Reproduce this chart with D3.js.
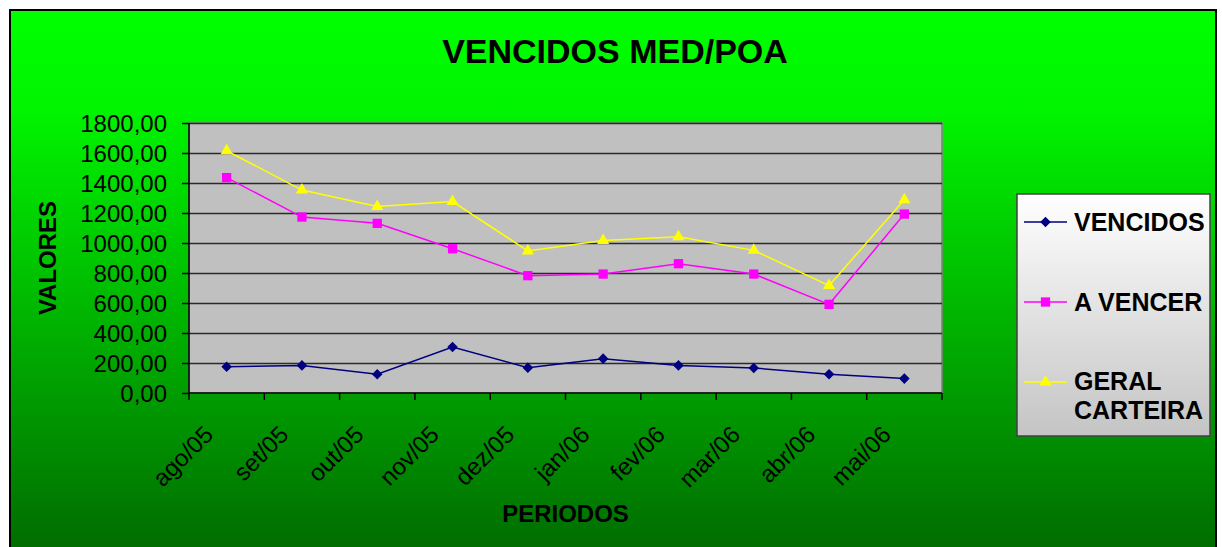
<!DOCTYPE html>
<html><head><meta charset="utf-8">
<script src="https://cdn.jsdelivr.net/npm/d3@7"></script>
<style>body{margin:0;background:#fff;overflow:hidden}</style>
</head><body><svg id="c" width="1222" height="547"></svg>
<script>
const categories = ["ago/05","set/05","out/05","nov/05","dez/05","jan/06","fev/06","mar/06","abr/06","mai/06"];
const vencidos = [175,184,125,307,169,229,184,167,125,96];
const aVencer = [1436,1173,1131,962,782,793,862,793,591,1193];
const geralCarteira = [1615,1353,1244,1276,947,1016,1042,951,716,1289];
const yTicks = [0,200,400,600,800,1000,1200,1400,1600,1800];
const seriesNames = ["VENCIDOS","A VENCER","GERAL CARTEIRA"];
const chartTitle = "VENCIDOS MED/POA";
const xTitle = "PERIODOS";
const yTitle = "VALORES";

const svg = d3.select("#c");
const defs = svg.append("defs");
const bg = defs.append("linearGradient").attr("id","bg").attr("x1",0).attr("y1",0).attr("x2",0).attr("y2",1);
bg.append("stop").attr("offset","0").attr("stop-color","#00ff00");
bg.append("stop").attr("offset","0.18").attr("stop-color","#00f500");
bg.append("stop").attr("offset","0.72").attr("stop-color","#009a00");
bg.append("stop").attr("offset","1").attr("stop-color","#006b00");
const lg = defs.append("linearGradient").attr("id","lg").attr("x1",0).attr("y1",0).attr("x2",0).attr("y2",1);
lg.append("stop").attr("offset","0").attr("stop-color","#ffffff");
lg.append("stop").attr("offset","1").attr("stop-color","#c4c4c4");

svg.append("rect").attr("x",10).attr("y",10).attr("width",1206).attr("height",545)
  .attr("fill","url(#bg)").attr("stroke","#000").attr("stroke-width",2);

const font = "'Liberation Sans', Arial, sans-serif";
const x = d3.scaleBand().domain(categories).range([189,942]);
const y = d3.scaleLinear().domain([0,1800]).range([393,123]);
const fmt = d3.formatLocale({decimal:",",thousands:".",grouping:[3],currency:["",""]}).format(".2f");

// plot area
svg.append("rect").attr("x",189).attr("y",123).attr("width",753).attr("height",270)
  .attr("fill","#c0c0c0").attr("stroke","#808080").attr("stroke-width",1.5);

// gridlines
svg.append("g").attr("transform","translate(189,0)")
  .call(d3.axisLeft(y).tickValues(yTicks.slice(1)).tickSize(-753).tickFormat(""))
  .call(g=>g.select(".domain").remove())
  .call(g=>g.selectAll("line").attr("stroke","#2a2a2a").attr("stroke-width",1.5));

// y axis
const ya = svg.append("g").attr("transform","translate(189,0)")
  .call(d3.axisLeft(y).tickValues(yTicks).tickSize(7).tickPadding(15).tickFormat(fmt));
ya.select(".domain").attr("stroke","#000").attr("stroke-width",1.5).attr("d","M0,123V393");
ya.selectAll("line").attr("stroke","#000").attr("stroke-width",1.5);
ya.selectAll("text").attr("font-family",font).attr("font-size",24).attr("fill","#000").attr("dy","0.35em");

// x axis
const xa = svg.append("g").attr("transform","translate(0,393)")
  .call(d3.axisBottom(x).tickSize(0).tickFormat(d=>d));
xa.select(".domain").attr("stroke","#000").attr("stroke-width",1.5).attr("d","M189,0H942");
xa.selectAll("text").attr("font-family",font).attr("font-size",24).attr("fill","#000")
  .attr("y",null).attr("dy",null).attr("text-anchor","end")
  .attr("transform","translate(-12,43) rotate(-45)");
xa.selectAll(".bound").data(d3.range(categories.length+1)).join("line")
  .attr("class","bound")
  .attr("x1",i=>x.range()[0]+i*x.step()).attr("x2",i=>x.range()[0]+i*x.step())
  .attr("y1",0).attr("y2",7).attr("stroke","#000").attr("stroke-width",1.5);

// series
const series = [
  {name:seriesNames[0], values:vencidos, color:"#000080", shape:"diamond"},
  {name:seriesNames[1], values:aVencer, color:"#ff00ff", shape:"square"},
  {name:seriesNames[2], values:geralCarteira, color:"#ffff00", shape:"triangle"}
];
const symbolPath = {
  diamond: d3.symbol(d3.symbolSquare, 56)(),
  square: d3.symbol(d3.symbolSquare, 86)(),
  triangle: d3.symbol(d3.symbolTriangle, 64)()
};
const rot = {diamond:45, square:0, triangle:0};
const cx = i => x(categories[i]) + x.bandwidth()/2;
const line = d3.line().x((d,i)=>cx(i)).y(d=>y(d));

series.forEach(s=>{
  svg.append("path").attr("d",line(s.values)).attr("fill","none")
    .attr("stroke",s.color).attr("stroke-width",1.5);
  svg.append("g").selectAll("path").data(s.values).join("path")
    .attr("d",symbolPath[s.shape])
    .attr("transform",(d,i)=>`translate(${cx(i)},${y(d)}) rotate(${rot[s.shape]})`)
    .attr("fill",s.color);
});

// titles
svg.append("text").attr("x",615).attr("y",63).attr("text-anchor","middle")
  .attr("font-family",font).attr("font-weight","bold").attr("font-size",34).text(chartTitle);
svg.append("text").attr("x",565.5).attr("y",522).attr("text-anchor","middle")
  .attr("font-family",font).attr("font-weight","bold").attr("font-size",24).text(xTitle);
svg.append("text").attr("transform","translate(56,258) rotate(-90)").attr("text-anchor","middle")
  .attr("font-family",font).attr("font-weight","bold").attr("font-size",24).text(yTitle);

// legend
svg.append("rect").attr("x",1017).attr("y",194).attr("width",193).attr("height",242)
  .attr("fill","url(#lg)").attr("stroke","#404040").attr("stroke-width",1.5);
const legendY = [222,302,382];
series.forEach((s,k)=>{
  const ly = legendY[k];
  svg.append("line").attr("x1",1024).attr("x2",1067).attr("y1",ly).attr("y2",ly)
    .attr("stroke",s.color).attr("stroke-width",1.5);
  svg.append("path").attr("d",symbolPath[s.shape])
    .attr("transform",`translate(1045.5,${ly}) rotate(${rot[s.shape]})`).attr("fill",s.color);
  const t = svg.append("text").attr("x",1074).attr("font-family",font)
    .attr("font-weight","bold").attr("font-size",25).attr("fill","#000").text(s.name);
  if (t.node().getComputedTextLength() > 136) {
    const words = s.name.split(" ");
    t.text(null);
    words.forEach((w,j)=>t.append("tspan").attr("x",1074).attr("y",ly+8+j*29).text(w));
  } else {
    t.attr("y",ly+9);
  }
});
</script>
</body></html>
